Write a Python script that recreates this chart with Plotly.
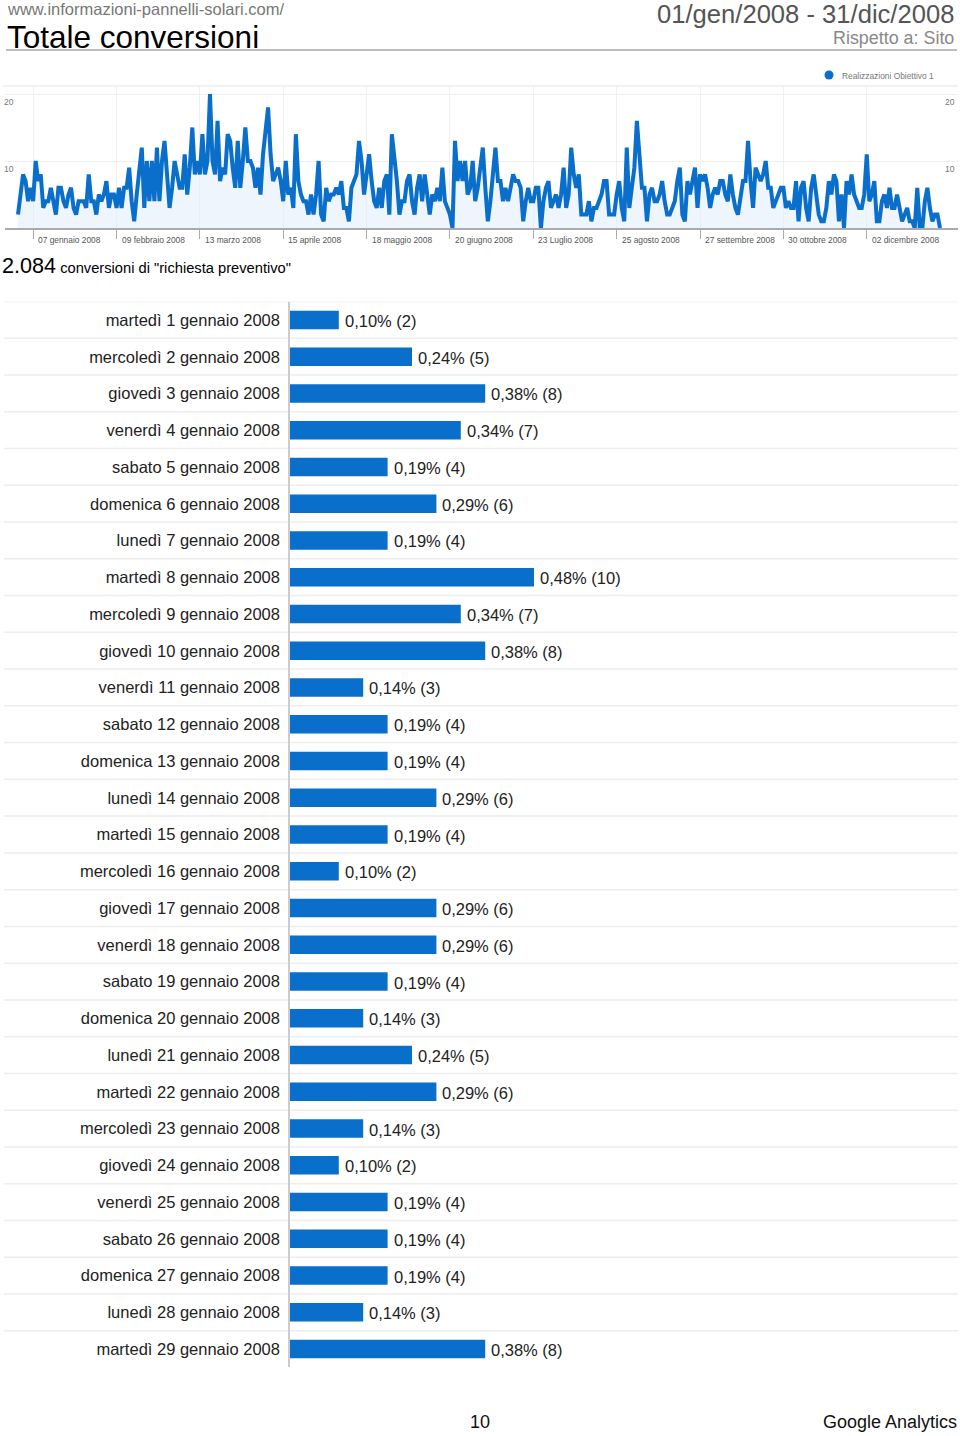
import pandas as pd
import plotly.graph_objects as go

# ---------------- data ----------------
jan = [2, 5, 8, 7, 4, 6, 4, 10, 7, 8, 3, 4, 4, 6, 4, 2, 6, 6, 4, 3, 5, 6, 3, 2, 4, 4, 4, 3, 8, 4, 4]
feb = [2, 5, 4, 5, 7, 3, 5, 5, 3, 6, 3, 6, 6, 9, 4, 1, 5, 8, 12, 3, 10, 4, 10, 4, 12, 4, 10, 13, 7]
mar = [3, 6, 10, 8, 6, 6, 11, 5, 9, 15, 8, 10, 8, 14, 8, 10, 20, 10, 8, 16, 7, 9, 8, 14, 13, 9, 6, 13, 6, 10, 15]
apr = [10, 10, 9, 6, 9, 5, 11, 14, 18, 11, 7, 8, 9, 7, 4, 10, 5, 6, 3, 14, 7, 5, 4, 4, 2, 5, 2, 5, 10, 2]
may = [1, 6, 4, 5, 5, 6, 5, 7, 3, 3, 1, 6, 7, 8, 13, 10, 5, 8, 11, 7, 4, 3, 6, 3, 7, 8, 2, 14, 11, 7, 2]
jun = [4, 4, 7, 8, 4, 2, 6, 8, 4, 8, 5, 2, 5, 4, 6, 4, 9, 4, 3, 2, 0, 13, 7, 10, 7, 10, 5, 6, 10, 4]
jul = [6, 9, 12, 6, 1, 4, 8, 12, 7, 7, 4, 6, 4, 6, 8, 7, 7, 6, 1, 4, 6, 4, 4, 6, 6, 0, 4, 6, 7, 3, 4]
aug = [5, 3, 5, 9, 3, 5, 12, 8, 6, 8, 2, 2, 2, 4, 1, 3, 3, 4, 5, 7, 7, 2, 2, 2, 5, 7, 3, 1, 12, 3, 6]
sep = [9, 16, 10, 6, 6, 1, 5, 6, 4, 4, 5, 7, 4, 2, 2, 3, 4, 7, 9, 2, 1, 7, 5, 7, 9, 3, 8, 7, 8, 6]
oct_ = [3, 5, 6, 5, 7, 7, 5, 4, 8, 5, 3, 2, 5, 7, 7, 13, 7, 3, 9, 8, 7, 8, 10, 6, 6, 3, 4, 5, 6, 6, 3]
nov = [4, 3, 3, 7, 1, 6, 7, 3, 1, 6, 8, 5, 2, 1, 1, 3, 7, 5, 8, 7, 1, 5, 0, 7, 5, 8, 5, 4, 3, 3]
dec = [5, 11, 4, 5, 7, 1, 1, 4, 5, 3, 6, 3, 3, 5, 3, 1, 2, 3, 1, 1, 0, 6, 0, 0, 4, 6, 3, 1, 2, 2, 0]
daily = jan + feb + mar + apr + may + jun + jul + aug + sep + oct_ + nov + dec
dates = pd.date_range("2008-01-01", periods=len(daily), freq="D")

tick_dates = ["2008-01-07", "2008-02-09", "2008-03-13", "2008-04-15", "2008-05-18", "2008-06-20",
              "2008-07-23", "2008-08-25", "2008-09-27", "2008-10-30", "2008-12-02"]
tick_labels = ["07 gennaio 2008", "09 febbraio 2008", "13 marzo 2008", "15 aprile 2008", "18 maggio 2008",
               "20 giugno 2008", "23 Luglio 2008", "25 agosto 2008", "27 settembre 2008", "30 ottobre 2008",
               "02 dicembre 2008"]
y_ticks = [10, 20]

bar_days = ["martedì 1 gennaio 2008", "mercoledì 2 gennaio 2008", "giovedì 3 gennaio 2008",
            "venerdì 4 gennaio 2008", "sabato 5 gennaio 2008", "domenica 6 gennaio 2008",
            "lunedì 7 gennaio 2008", "martedì 8 gennaio 2008", "mercoledì 9 gennaio 2008",
            "giovedì 10 gennaio 2008", "venerdì 11 gennaio 2008", "sabato 12 gennaio 2008",
            "domenica 13 gennaio 2008", "lunedì 14 gennaio 2008", "martedì 15 gennaio 2008",
            "mercoledì 16 gennaio 2008", "giovedì 17 gennaio 2008", "venerdì 18 gennaio 2008",
            "sabato 19 gennaio 2008", "domenica 20 gennaio 2008", "lunedì 21 gennaio 2008",
            "martedì 22 gennaio 2008", "mercoledì 23 gennaio 2008", "giovedì 24 gennaio 2008",
            "venerdì 25 gennaio 2008", "sabato 26 gennaio 2008", "domenica 27 gennaio 2008",
            "lunedì 28 gennaio 2008", "martedì 29 gennaio 2008"]
bar_counts = [2, 5, 8, 7, 4, 6, 4, 10, 7, 8, 3, 4, 4, 6, 4, 2, 6, 6, 4, 3, 5, 6, 3, 2, 4, 4, 4, 3, 8]
total = 2084

# ---------------- layout helpers ----------------
W, H = 960, 1436
FONT = "Liberation Sans, Arial, Helvetica, sans-serif"
BLUE = "#0a6ecb"


def px(x):
    return x / W


def py(y):
    return 1 - y / H


day_px = (940 - 18) / 365.0
d0 = pd.Timestamp("2008-01-01")
x_left = d0 + pd.Timedelta(days=(5 - 18) / day_px)
x_right = d0 + pd.Timedelta(days=(958 - 18) / day_px)

fig = go.Figure()

fig.add_trace(go.Scatter(
    x=dates, y=daily, mode="lines",
    line=dict(color=BLUE, width=4),
    fill="tozeroy", fillcolor="rgba(225,237,250,0.55)",
    xaxis="x", yaxis="y", showlegend=False, hoverinfo="x+y",
))

bar_idx = list(range(len(bar_counts)))
fig.add_trace(go.Bar(
    x=bar_counts, y=bar_idx, orientation="h",
    xaxis="x2", yaxis="y2", width=0.5,
    marker=dict(color=BLUE, line=dict(width=0)),
    showlegend=False,
))

shapes = []
# header rule
shapes.append(dict(type="line", xref="paper", yref="paper", x0=px(6), x1=px(957), y0=py(50), y1=py(50),
                   line=dict(color="#bdbdbd", width=2)))
# top rule of chart
shapes.append(dict(type="line", xref="paper", yref="paper", x0=px(3), x1=px(958), y0=py(86), y1=py(86),
                   line=dict(color="#eeeeee", width=1.5)))
# legend dot
shapes.append(dict(type="circle", xref="paper", yref="paper", x0=px(824.5), x1=px(833.5), y0=py(79.5),
                   y1=py(70.5), fillcolor=BLUE, line=dict(width=0)))
# row separators for bar list
for k in bar_idx:
    shapes.append(dict(type="line", xref="paper", yref="y2", x0=px(4), x1=px(958), y0=k - 0.5, y1=k - 0.5,
                       line=dict(color="#eeeeee", width=1.5), layer="below"))

ann = []


def text(x, y, s, size, color="#000", anchor="left", family=FONT):
    ann.append(dict(xref="paper", yref="paper", x=px(x), y=py(y), text=s, showarrow=False,
                    xanchor=anchor, yanchor="middle", borderpad=0,
                    font=dict(size=size, color=color, family=family)))


text(6, 9, "www.informazioni-pannelli-solari.com/", 16.5, "#777")
text(6, 37, "Totale conversioni", 31.5, "#000")
text(955, 14, "01/gen/2008 - 31/dic/2008", 25.6, "#555", "right")
text(955, 38, "Rispetto a: Sito", 17.9, "#888", "right")
text(841, 76, "Realizzazioni Obiettivo 1", 8.4, "#777")
# y labels
for v in y_ticks:
    yy = 228 - v * (228 - 94) / 20 + 8
    text(3, yy, str(v), 8.5, "#777")
    text(956, yy, str(v), 8.5, "#777", "right")
# x labels
for d, lab in zip(tick_dates, tick_labels):
    ann.append(dict(xref="x", yref="paper", x=d, y=py(239.5), text=lab, showarrow=False, xanchor="left",
                    yanchor="middle", xshift=3, font=dict(size=8.4, color="#555", family=FONT)))
# bar value labels
for i, c in zip(bar_idx, bar_counts):
    lab = f"{c / total * 100:.2f}".replace(".", ",") + f"% ({c})"
    ann.append(dict(xref="x2", yref="y2", x=c, y=i, text=lab, showarrow=False, xanchor="left",
                    yanchor="middle", xshift=4, yshift=-1, font=dict(size=16.5, color="#222", family=FONT)))
text(1, 266, "<span style='font-size:21.6px'>2.084</span> conversioni di \"richiesta preventivo\"", 14.7,
     "#000")
text(480, 1422, "10", 18, "#111", "center")
text(958, 1422, "Google Analytics", 18, "#111", "right")

fig.update_layout(
    width=W, height=H, margin=dict(l=0, r=0, t=0, b=0),
    paper_bgcolor="white", plot_bgcolor="white",
    font=dict(family=FONT),
    shapes=shapes, annotations=ann,
    xaxis=dict(domain=[px(5), px(958)], type="date", range=[x_left, x_right],
               tickvals=tick_dates, showticklabels=False, ticks="outside", ticklen=9,
               tickcolor="#aaaaaa", tickwidth=1, showgrid=True, gridcolor="#f0f0f0",
               showline=True, linecolor="#aaaaaa", linewidth=1.5, zeroline=False, fixedrange=True),
    yaxis=dict(domain=[py(228), py(86)], range=[0, (228 - 86) / ((228 - 94) / 20)],
               tickvals=y_ticks, showticklabels=False, showgrid=True, gridcolor="#f0f0f0",
               zeroline=False, fixedrange=True),
    xaxis2=dict(domain=[px(290), px(958)], range=[0, (958 - 290) / 24.4], anchor="y2",
                showticklabels=False, showgrid=False, zeroline=False, fixedrange=True),
    yaxis2=dict(domain=[py(1367.4), py(301.6)], range=[len(bar_counts) - 0.5, -0.5], anchor="x2",
                tickvals=bar_idx, ticktext=bar_days, ticks="",
                ticklabelstandoff=5, tickfont=dict(size=16.5, color="#222", family=FONT),
                showgrid=False, zeroline=False, showline=True, linecolor="#cccccc", linewidth=1.5,
                fixedrange=True),
)

fig.write_html("out.html", config={"displayModeBar": False},
               post_script="document.body.style.margin='0';")
